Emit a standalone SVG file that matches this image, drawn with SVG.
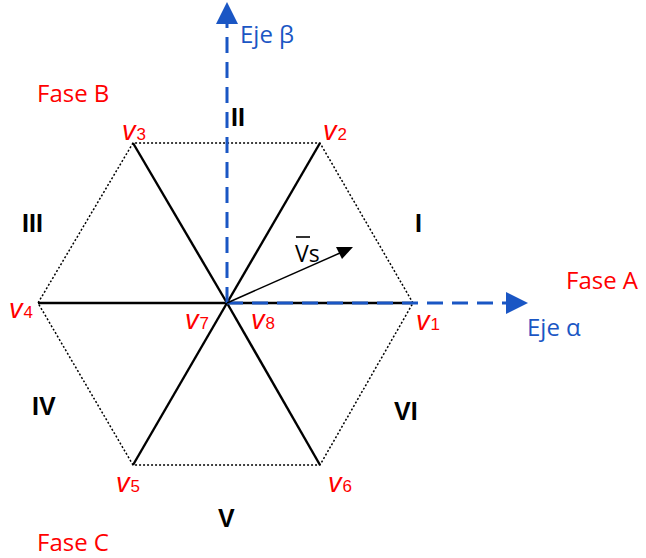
<svg xmlns="http://www.w3.org/2000/svg" width="646" height="558" viewBox="0 0 646 558">
<style>
.v{font-family:"Liberation Sans",Arial,sans-serif;fill:#ff0000;font-style:italic;font-size:27px}
.s{font-style:normal;font-size:17px}
.f{font-family:"Open Sans","Liberation Sans",sans-serif;fill:#ff0000;font-size:24px}
.e{font-family:"Open Sans","Liberation Sans",sans-serif;fill:#1a56c4;font-size:24px}
.r{font-family:"Liberation Sans",Arial,sans-serif;font-weight:bold;font-size:25px;fill:#000}
.hex{fill:none;stroke:#000;stroke-width:1.5;stroke-dasharray:2 2}
.sp{stroke:#000;stroke-width:2.4}
.ax{stroke:#1a56c4;stroke-width:3;stroke-dasharray:16 9}
</style>
<g id="connectors">
<polygon class="hex" points="413,303 320,143 133,143 38,303 133,465 320,465"/>
<line class="sp" x1="227" y1="303" x2="320" y2="143"/>
<line class="sp" x1="227" y1="303" x2="133" y2="143"/>
<line class="sp" x1="227" y1="303" x2="38" y2="303"/>
<line class="sp" x1="227" y1="303" x2="133" y2="465"/>
<line class="sp" x1="227" y1="303" x2="320" y2="465"/>
<line class="sp" x1="227" y1="303" x2="413" y2="303"/>
<line class="ax" x1="227" y1="303" x2="227" y2="22"/>
<path d="M216,24 L227,2 L238,24 z" fill="#1a56c4"/>
<line class="ax" x1="227" y1="303" x2="508" y2="303"/>
<path d="M506,292 L528,303 L506,314 z" fill="#1a56c4"/>
<line x1="227" y1="303" x2="340" y2="253" stroke="#000" stroke-width="1.5"/>
<path d="M353,247 L336,247 L342,259 z" fill="#000"/>
</g>
<g id="labels">
<text class="v" x="122" y="140">v<tspan class="s" dx="1">3</tspan></text>
<text class="v" x="323" y="140">v<tspan class="s" dx="1">2</tspan></text>
<text class="v" x="9" y="318">v<tspan class="s" dx="1">4</tspan></text>
<text class="v" x="416" y="330">v<tspan class="s" dx="1">1</tspan></text>
<text class="v" x="185" y="329">v<tspan class="s" dx="1">7</tspan></text>
<text class="v" x="251" y="329">v<tspan class="s" dx="1">8</tspan></text>
<text class="v" x="116" y="492">v<tspan class="s" dx="1">5</tspan></text>
<text class="v" x="328" y="492">v<tspan class="s" dx="1">6</tspan></text>
<text class="r" x="231" y="126">II</text>
<text class="r" x="415" y="232">I</text>
<text class="r" x="22" y="232">III</text>
<text class="r" x="32" y="415">IV</text>
<text class="r" x="394" y="420">VI</text>
<text class="r" x="218" y="527">V</text>
<text class="f" x="37" y="102">Fase B</text>
<text class="f" x="566" y="289">Fase A</text>
<text class="f" x="37" y="551">Fase C</text>
<text class="e" x="240" y="43">Eje β</text>
<text class="e" x="527" y="336">Eje α</text>
<text x="295" y="262" font-family="'Open Sans','Liberation Sans',sans-serif" font-size="23" fill="#000">Vs</text>
<line x1="296" y1="237" x2="310" y2="237" stroke="#000" stroke-width="1.6"/>
</g>
</svg>
